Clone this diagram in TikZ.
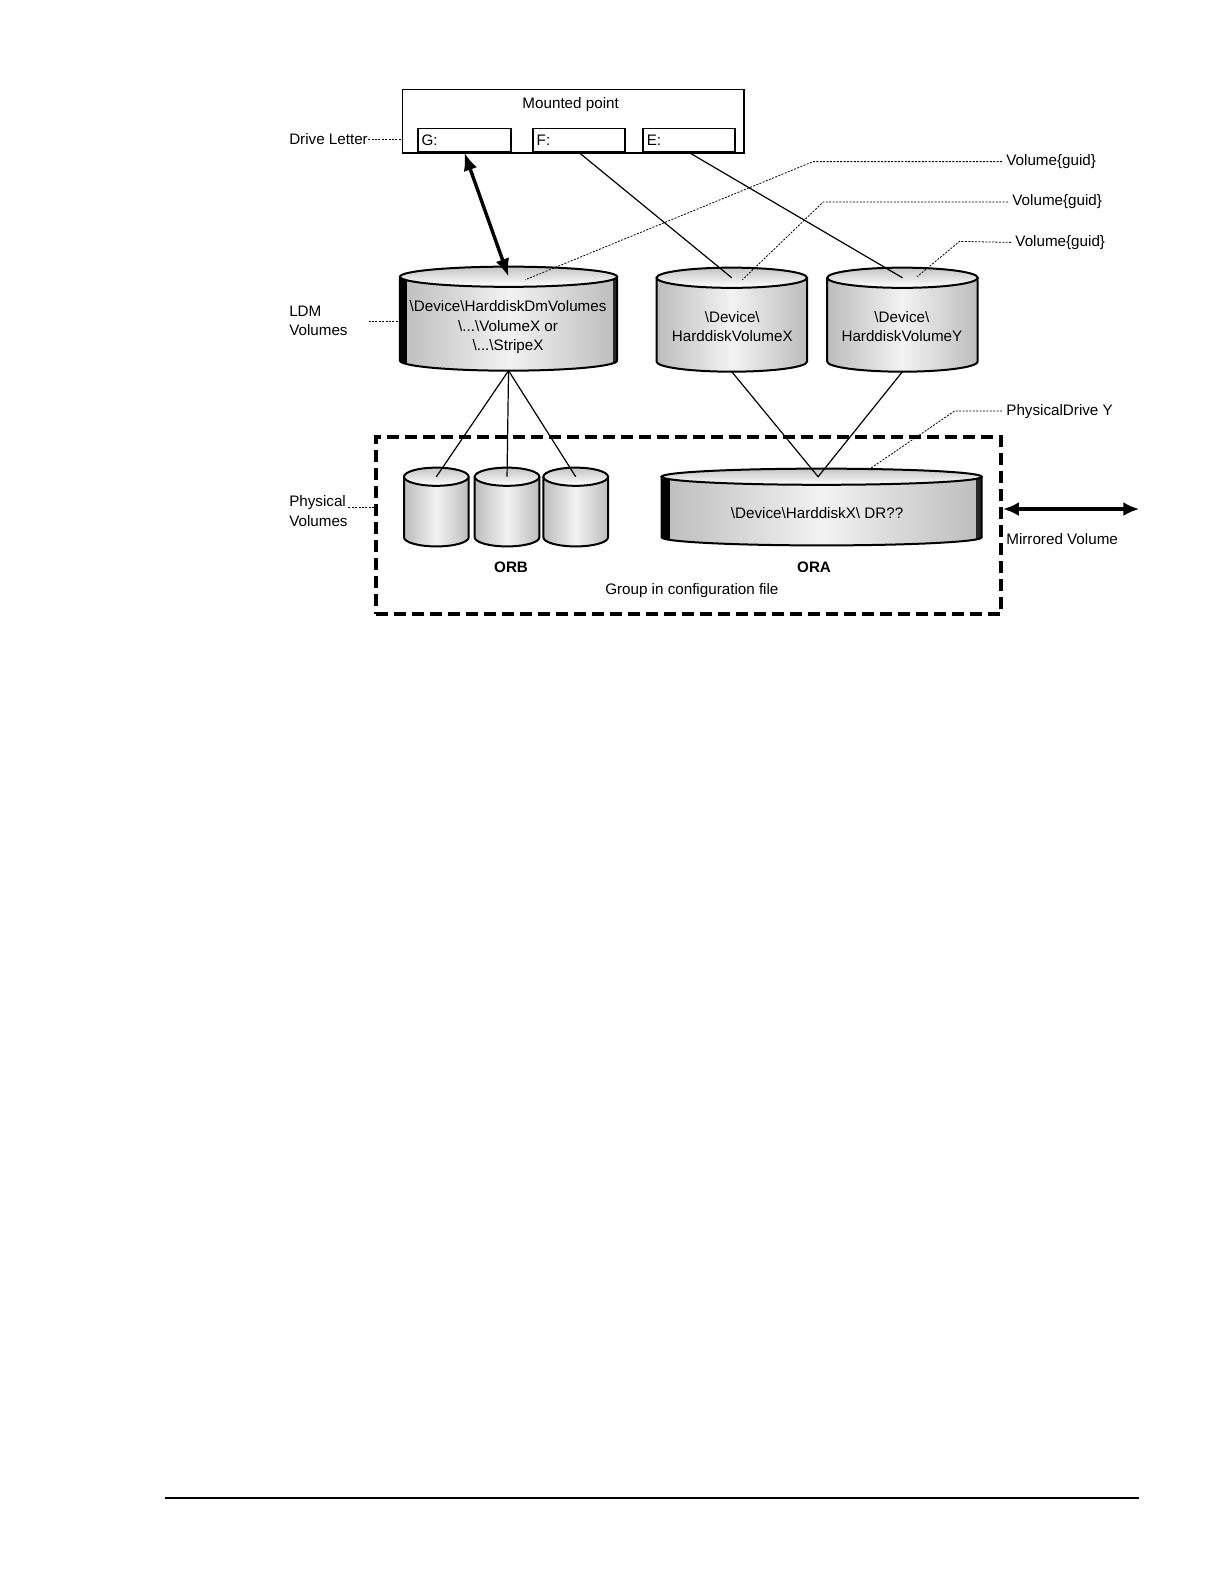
\documentclass[tikz,border=0pt]{standalone}
\usepackage{fontspec}
\setmainfont{Liberation Sans}
\usetikzlibrary{arrows.meta}
\definecolor{cylside}{HTML}{BCBCBC}
\definecolor{cyltop}{HTML}{C4C4C4}
\tikzset{
  every node/.style={font=\fontsize{7.6pt}{9.6pt}\selectfont, inner sep=0pt},
  lbl/.style={anchor=west, align=left},
  box/.style={draw, line width=0.7pt},
  conn/.style={line width=0.6pt},
  leader/.style={line width=0.4pt, dash pattern=on 1pt off 0.7pt},
  cyledge/.style={line width=1pt},
  bigarrow/.style={line width=1.7pt, {Latex[length=9pt,width=7pt]}-{Latex[length=9pt,width=7pt]}},
  groupbox/.style={draw, line width=2pt, dash pattern=on 6pt off 3pt},
}
\newcommand\dcyl[8]{%
  \pgfmathsetmacro\cyx{(#2+#3)/2}%
  \pgfmathsetlengthmacro\cyrx{(#3-#2)/2*0.505}%
  \pgfmathsetlengthmacro\cyry{#6*0.505}%
  \path[left color=cylside, right color=cylside, middle color=white!95!black]
    (#2,#4) -- (#2,#5) arc[start angle=180,end angle=360,x radius=\cyrx,y radius=\cyry] -- (#3,#4) -- cycle;
  \begin{scope}
    \clip (#2,#4) -- (#2,#5) arc[start angle=180,end angle=360,x radius=\cyrx,y radius=\cyry] -- (#3,#4) -- cycle;
    \fill[black] (#2,#4-30) rectangle ({#2+#7},{#5+30});
    \fill[black!85] ({#3-#8},#4-30) rectangle (#3,{#5+30});
  \end{scope}
  \draw[cyledge] (#2,#4) -- (#2,#5) arc[start angle=180,end angle=360,x radius=\cyrx,y radius=\cyry] -- (#3,#4);
  \draw[cyledge, top color=cyltop, bottom color=white] (\cyx,#4) ellipse[x radius=\cyrx, y radius=\cyry];
  \coordinate (#1-top) at (\cyx,#4);
  \coordinate (#1-bot) at (\cyx,{#5+#6});
}
\begin{document}
\begin{tikzpicture}[x=0.505pt,y=-0.505pt]
\useasboundingbox (0pt,0pt) rectangle (612pt,-792pt);

% Mounted point box
\node[box, anchor=north west, minimum width=170.7pt, minimum height=31.8pt] (mount) at (398,88) {};
\node (mounttxt) at (565,104) {Mounted point};
\node[box, anchor=south west, minimum width=46.5pt, minimum height=11.6pt] (G) at (413,151) {};
\node[box, anchor=south west, minimum width=46.0pt, minimum height=11.6pt] (F) at (527,151) {};
\node[box, anchor=south west, minimum width=46.0pt, minimum height=11.6pt] (E) at (636,151) {};
\node[lbl] (Gt) at (417,139) {G:};
\node[lbl] (Ft) at (531,139) {F:};
\node[lbl] (Et) at (640,139) {E:};

% left labels
\node[lbl] (dl) at (286,138) {Drive Letter};
\draw[leader] (dl.east) -- (mount.west |- dl.east);
\node[lbl] (ldm) at (286,318) {LDM\\Volumes};
\node[lbl] (phys) at (286,506) {Physical\\Volumes};

% LDM cylinders
\dcyl{c1}{396}{611}{274}{357}{10}{7}{4}
\dcyl{c2}{650}{799}{275}{358}{10}{0}{0}
\dcyl{c3}{819}{968}{275}{358}{10}{0}{0}
\node[align=center] (c1t) at (503,324) {\textbackslash Device\textbackslash HarddiskDmVolumes\\\textbackslash ...\textbackslash VolumeX or\\\textbackslash ...\textbackslash StripeX};
\node[align=center] (c2t) at (725,323.5) {\textbackslash Device\textbackslash\\HarddiskVolumeX};
\node[align=center] (c3t) at (893,323.5) {\textbackslash Device\textbackslash\\HarddiskVolumeY};
\coordinate (ldmend) at (396,318);
\draw[leader] (365,318) coordinate (ldmstart) -- (ldmend);

% Physical cylinders
\dcyl{b1}{400}{464}{472}{532}{9}{0}{0}
\dcyl{b2}{470}{534}{472}{532}{9}{0}{0}
\dcyl{b3}{538}{602}{472}{532}{9}{0}{0}
\dcyl{ora}{655}{972}{472}{532}{8}{8}{6}
\node (orat) at (809,508) {\textbackslash Device\textbackslash HarddiskX\textbackslash\ DR??};

% connectors
\draw[bigarrow] (G.south) -- (c1-top);
\draw[conn] (F.south) -- (c2-top);
\draw[conn] (E.south) -- (c3-top);
\coordinate (vtip) at (810,472);
\draw[conn] (c1-bot) -- (b1-top);
\draw[conn] (c1-bot) -- (b2-top);
\draw[conn] (c1-bot) -- (b3-top);
\draw[conn] (c2-bot) -- (vtip) -- (c3-bot);

% right labels with leaders
\node[lbl] (vg1) at (996,160) {Volume\{guid\}};
\node[lbl] (vg2) at (1002,200) {Volume\{guid\}};
\node[lbl] (vg3) at (1005,240) {Volume\{guid\}};
\node[lbl] (pdy) at (996,407) {PhysicalDrive Y};
\coordinate (vg1a) at (520,277);
\coordinate (vg2a) at (735,277);
\coordinate (vg3a) at (908,274);
\coordinate (pdya) at (860,465);
\draw[leader] ([xshift=-2pt]vg1.west) -- (805,160) -- (vg1a);
\draw[leader] ([xshift=-2pt]vg2.west) -- (815,200) -- (vg2a);
\draw[leader] ([xshift=-2pt]vg3.west) -- (950,239) -- (vg3a);
\draw[leader] ([xshift=-2pt]pdy.west) -- (945,407) -- (pdya);

% group box
\node[groupbox, anchor=north west, minimum width=312.6pt, minimum height=88.4pt] (grp) at (370,431) {};
\draw[leader] (345,502) -- (grp.west |- 0,502);
\node[font=\fontsize{7.6pt}{9.6pt}\selectfont\bfseries] (orb) at (506,562) {ORB};
\node[font=\fontsize{7.6pt}{9.6pt}\selectfont\bfseries] (ora) at (806,562) {ORA};
\node (grptxt) at (685,585) {Group in configuration file};

% mirrored
\coordinate (mirr) at (1128,504);
\draw[line width=1.7pt, {Latex[length=8pt,width=7pt]}-{Latex[length=8pt,width=7pt]}] (grp.east |- mirr) -- (mirr);
\node[lbl] (mirtxt) at (996,534) {Mirrored Volume};

% footer rule
\coordinate (rule1) at (163,1483);
\coordinate (rule2) at (1128,1483);
\draw[line width=0.8pt] (rule1) -- (rule2);
\end{tikzpicture}
\end{document}
